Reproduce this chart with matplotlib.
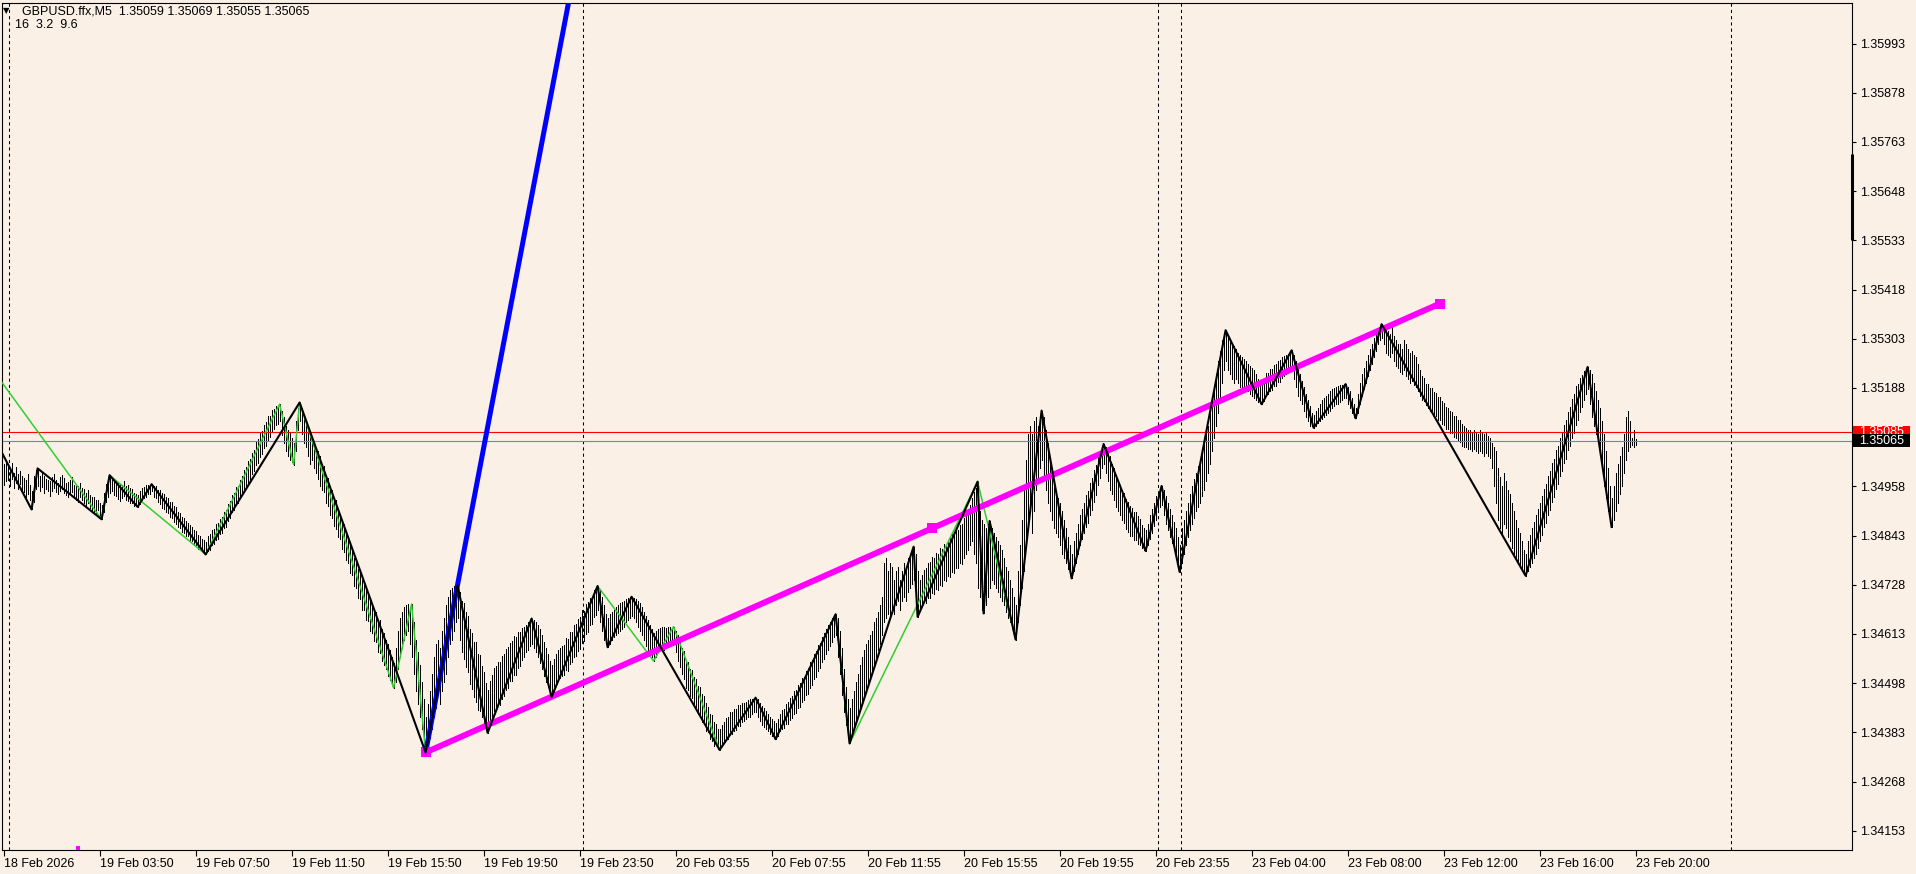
import matplotlib
matplotlib.use("Agg")
import matplotlib.pyplot as plt
from matplotlib.patches import Rectangle

# GBPUSD M5, bar index 0 = 18 Feb 23:50; prices in points above 1.34000
bar_low = [
    962, 970, 972, 958, 975, 955, 966, 952, 964, 948,
    944, 932, 941, 926, 904, 922, 952, 960, 948, 957,
    942, 952, 946, 936, 948, 953, 944, 940, 947, 951,
    943, 938, 932, 940, 944, 931, 927, 922, 932, 925,
    918, 912, 920, 907, 903, 898, 892, 902, 888, 881,
    898, 922, 933, 942, 946, 938, 936, 928, 924, 931,
    936, 926, 924, 918, 919, 913, 911, 910, 917, 926,
    931, 934, 939, 941, 946, 933, 931, 922, 917, 908,
    904, 897, 896, 886, 884, 875, 871, 862, 861, 852,
    849, 842, 841, 832, 831, 822, 821, 812, 813, 806,
    803, 799, 806, 810, 820, 823, 832, 836, 847, 848,
    860, 863, 877, 883, 897, 903, 917, 920, 932, 938,
    950, 953, 967, 973, 987, 993, 1007, 1013, 1027, 1033,
    1047, 1053, 1067, 1073, 1087, 1093, 1102, 1103, 1110, 1078,
    1060, 1040, 1030, 1020, 1015, 1009, 1040, 1090, 1110, 1080,
    1060, 1050, 1030, 1010, 1020, 1000, 990, 975, 960, 950,
    945, 920, 912, 890, 885, 866, 858, 840, 834, 812,
    804, 785, 778, 756, 750, 726, 720, 696, 694, 670,
    668, 646, 644, 620, 615, 596, 594, 570, 569, 550,
    540, 530, 515, 505, 495, 487, 500, 530, 560, 580,
    600, 610, 620, 590, 560, 520, 480, 450, 420, 390,
    360, 336, 350, 370, 390, 420, 440, 470, 450, 480,
    500, 520, 560, 590, 600, 620, 640, 650, 600, 570,
    555, 535, 525, 495, 485, 465, 455, 435, 433, 418,
    404, 388, 382, 402, 418, 433, 437, 448, 447, 462,
    467, 483, 487, 503, 502, 518, 517, 533, 537, 553,
    560, 570, 575, 585, 590, 580, 570, 560, 545, 530,
    515, 500, 490, 480, 466, 480, 495, 505, 510, 515,
    518, 528, 527, 543, 547, 558, 562, 573, 577, 593,
    597, 613, 617, 633, 637, 653, 657, 670, 640, 620,
    600, 590, 582, 590, 600, 605, 610, 615, 620, 625,
    630, 640, 645, 650, 655, 650, 640, 630, 620, 610,
    600, 585, 575, 565, 558, 550, 560, 570, 580, 585,
    575, 580, 585, 590, 595, 600, 570, 550, 535, 520,
    508, 487, 483, 467, 463, 447, 443, 427, 423, 407,
    403, 387, 383, 367, 363, 352, 353, 343, 342, 351,
    358, 367, 368, 377, 378, 387, 388, 397, 398, 407,
    410, 415, 418, 420, 425, 430, 430, 420, 410, 400,
    395, 390, 385, 380, 375, 370, 367, 375, 385, 390,
    393, 402, 403, 412, 416, 427, 428, 440, 443, 454,
    458, 470, 473, 487, 493, 507, 513, 527, 533, 547,
    555, 565, 575, 585, 595, 605, 610, 560, 520, 470,
    430, 400, 370, 357, 380, 400, 410, 420, 440, 450,
    470, 480, 500, 510, 520, 540, 560, 575, 590, 610,
    640, 650, 660, 650, 670, 660, 680, 690, 670, 690,
    700, 690, 710, 720, 730, 740, 680, 653, 670, 680,
    688, 686, 698, 697, 708, 706, 718, 716, 728, 726,
    738, 736, 748, 746, 758, 756, 768, 766, 778, 776,
    790, 800, 810, 820, 830, 800, 780, 720, 700, 670,
    661, 680, 700, 720, 740, 730, 720, 710, 700, 690,
    680, 665, 650, 640, 625, 610, 600, 640, 680, 720,
    760, 820, 880, 900, 850, 900, 950, 980, 1000, 1020,
    980, 950, 920, 900, 880, 860, 850, 840, 820, 800,
    790, 780, 765, 750, 743, 760, 780, 800, 820, 835,
    848, 862, 873, 892, 903, 922, 938, 962, 978, 1000,
    1010, 990, 970, 950, 940, 925, 910, 900, 890, 880,
    872, 858, 852, 843, 842, 833, 832, 823, 822, 813,
    810, 807, 820, 835, 850, 865, 880, 900, 910, 915,
    890, 870, 855, 840, 825, 810, 790, 775, 758, 780,
    800, 820, 840, 855, 870, 885, 900, 910, 920, 935,
    950, 970, 990, 1010, 1040, 1070, 1100, 1130, 1160, 1200,
    1230, 1250, 1230, 1220, 1210, 1200, 1210, 1200, 1190, 1185,
    1180, 1190, 1180, 1175, 1170, 1165, 1160, 1155, 1152, 1150,
    1158, 1172, 1173, 1182, 1183, 1192, 1193, 1202, 1203, 1212,
    1215, 1220, 1225, 1230, 1235, 1210, 1190, 1170, 1160, 1150,
    1135, 1120, 1110, 1100, 1098, 1095, 1100, 1105, 1110, 1115,
    1120, 1125, 1130, 1135, 1140, 1145, 1150, 1150, 1155, 1160,
    1165, 1165, 1150, 1140, 1130, 1120, 1117, 1130, 1150, 1170,
    1185, 1200, 1215, 1230, 1245, 1260, 1275, 1290, 1300, 1305,
    1290, 1270, 1265, 1260, 1270, 1250, 1240, 1235, 1225, 1220,
    1230, 1215, 1210, 1200, 1205, 1195, 1190, 1180, 1170, 1160,
    1157, 1148, 1142, 1133, 1132, 1123, 1122, 1113, 1112, 1103,
    1102, 1093, 1092, 1083, 1082, 1073, 1072, 1063, 1062, 1053,
    1050, 1050, 1045, 1045, 1040, 1045, 1040, 1035, 1040, 1035,
    1030, 1035, 1030, 1025, 1000, 960, 920, 880, 860, 850,
    870, 860, 840, 830, 815, 800, 790, 780, 770, 760,
    755, 749, 760, 770, 780, 790, 800, 815, 830, 845,
    862, 873, 892, 903, 922, 933, 952, 963, 982, 993,
    1012, 1023, 1042, 1053, 1072, 1083, 1102, 1113, 1132, 1143,
    1160, 1175, 1185, 1150, 1120, 1100, 1080, 1060, 1030, 1000,
    960, 930, 900, 880, 863, 880, 900, 920, 940, 960,
    990, 1020, 1040, 1050, 1055, 1050, 1055,
]
bar_high = [
    1010, 1018, 1004, 1000, 1012, 990, 1003, 988, 994, 982,
    978, 972, 986, 962, 948, 982, 996, 1000, 983, 992,
    983, 976, 972, 970, 981, 988, 974, 966, 980, 984,
    978, 965, 968, 974, 979, 962, 958, 960, 965, 953,
    951, 943, 950, 938, 934, 932, 926, 927, 918, 914,
    942, 963, 977, 984, 979, 973, 971, 966, 963, 962,
    971, 960, 961, 953, 951, 943, 941, 937, 946, 953,
    957, 961, 962, 959, 963, 958, 959, 950, 949, 943,
    941, 933, 931, 922, 921, 912, 909, 898, 896, 887,
    884, 876, 873, 867, 863, 855, 853, 845, 843, 836,
    833, 829, 841, 846, 857, 858, 870, 873, 882, 886,
    897, 903, 917, 923, 937, 943, 957, 960, 974, 983,
    997, 1003, 1017, 1023, 1037, 1043, 1062, 1068, 1082, 1088,
    1102, 1108, 1122, 1123, 1137, 1138, 1146, 1147, 1150, 1133,
    1120, 1100, 1090, 1085, 1070, 1060, 1110, 1140, 1154, 1140,
    1120, 1110, 1100, 1080, 1070, 1060, 1045, 1040, 1030, 1010,
    1005, 985, 978, 955, 950, 930, 925, 900, 894, 875,
    870, 845, 843, 820, 815, 790, 785, 765, 763, 740,
    735, 715, 710, 690, 685, 665, 665, 645, 645, 625,
    615, 600, 590, 575, 560, 545, 580, 620, 650, 665,
    675, 680, 683, 670, 683, 640, 600, 570, 540, 500,
    460, 420, 450, 480, 520, 560, 590, 600, 580, 620,
    650, 680, 700, 715, 720, 725, 727, 727, 710, 690,
    685, 665, 655, 625, 615, 595, 595, 565, 563, 538,
    525, 498, 482, 503, 517, 533, 537, 548, 547, 562,
    567, 578, 582, 593, 597, 608, 607, 618, 617, 628,
    630, 635, 640, 645, 649, 645, 640, 635, 625, 610,
    595, 580, 565, 550, 540, 555, 565, 575, 580, 585,
    588, 603, 602, 618, 617, 633, 637, 648, 652, 668,
    667, 683, 687, 698, 702, 715, 717, 725, 715, 700,
    680, 660, 650, 660, 665, 670, 675, 680, 685, 688,
    690, 695, 698, 700, 700, 698, 695, 690, 685, 675,
    665, 655, 645, 635, 625, 615, 620, 625, 628, 630,
    630, 628, 630, 630, 628, 630, 620, 610, 595, 580,
    573, 552, 548, 532, 528, 512, 508, 492, 488, 472,
    468, 452, 443, 427, 423, 407, 403, 392, 390, 401,
    408, 417, 418, 430, 430, 438, 438, 447, 446, 452,
    452, 455, 458, 460, 462, 464, 464, 460, 452, 445,
    440, 432, 425, 420, 415, 410, 405, 415, 425, 435,
    438, 450, 453, 464, 468, 480, 483, 494, 498, 510,
    513, 527, 533, 547, 553, 567, 573, 587, 593, 607,
    615, 625, 635, 642, 650, 655, 659, 650, 620, 580,
    530, 490, 460, 440, 460, 480, 500, 520, 540, 560,
    575, 590, 600, 610, 620, 640, 650, 665, 680, 700,
    780, 790, 760, 780, 770, 740, 760, 770, 740, 760,
    780, 770, 790, 800, 810, 817, 800, 760, 740, 750,
    762, 767, 778, 782, 793, 791, 803, 801, 813, 811,
    823, 821, 833, 837, 848, 846, 858, 856, 868, 871,
    885, 895, 905, 915, 930, 945, 955, 969, 900, 880,
    870, 860, 870, 877, 860, 850, 840, 830, 820, 810,
    790, 770, 760, 740, 720, 700, 680, 760, 820, 880,
    950, 1020, 1080, 1100, 1080, 1110, 1120, 1100, 1125, 1135,
    1120, 1090, 1060, 1020, 980, 960, 940, 930, 920, 900,
    880, 860, 840, 820, 800, 830, 850, 870, 890, 905,
    918, 937, 948, 967, 978, 997, 1008, 1027, 1038, 1050,
    1057, 1050, 1040, 1030, 1010, 1000, 985, 970, 960, 950,
    942, 928, 922, 913, 907, 898, 897, 888, 882, 868,
    860, 855, 870, 890, 905, 920, 935, 945, 955, 959,
    950, 935, 920, 905, 890, 875, 860, 840, 820, 860,
    880, 900, 920, 940, 960, 975, 990, 1005, 1020, 1040,
    1060, 1080, 1100, 1130, 1160, 1190, 1220, 1250, 1275, 1300,
    1315, 1323, 1310, 1300, 1290, 1285, 1280, 1270, 1265, 1260,
    1255, 1250, 1245, 1240, 1235, 1230, 1220, 1210, 1200, 1195,
    1208, 1222, 1223, 1232, 1233, 1242, 1243, 1252, 1253, 1260,
    1262, 1265, 1268, 1272, 1276, 1265, 1250, 1235, 1220, 1205,
    1190, 1175, 1160, 1145, 1130, 1125, 1135, 1140, 1150, 1160,
    1165, 1170, 1175, 1180, 1185, 1188, 1190, 1192, 1195, 1195,
    1197, 1197, 1190, 1180, 1165, 1150, 1140, 1175, 1200, 1220,
    1235, 1250, 1265, 1280, 1290, 1305, 1315, 1325, 1332, 1337,
    1335, 1330, 1320, 1315, 1330, 1310, 1300, 1290, 1290, 1280,
    1300, 1290, 1280, 1270, 1275, 1265, 1260, 1245, 1230, 1215,
    1212, 1198, 1197, 1188, 1187, 1178, 1177, 1168, 1167, 1158,
    1152, 1143, 1142, 1133, 1132, 1123, 1122, 1113, 1112, 1103,
    1100, 1095, 1090, 1090, 1085, 1090, 1085, 1080, 1090, 1085,
    1080, 1085, 1075, 1070, 1060, 1050, 1040, 1000, 980, 960,
    990, 970, 950, 940, 920, 900, 880, 860, 850, 830,
    810, 800, 830, 845, 860, 875, 890, 905, 920, 935,
    952, 963, 982, 993, 1012, 1023, 1042, 1053, 1072, 1083,
    1102, 1113, 1132, 1143, 1162, 1173, 1192, 1198, 1212, 1218,
    1228, 1233, 1237, 1230, 1220, 1200, 1180, 1160, 1140, 1110,
    1080, 1040, 1000, 960, 930, 960, 990, 1010, 1030, 1050,
    1080, 1120, 1135, 1110, 1070, 1090, 1069,
]

# zigzag indicators (bar index, points)
zz_idx = [-1, 14, 17, 49, 53, 67, 74, 101, 148, 211, 227, 242, 264, 274, 297,
          302, 314, 358, 376, 386, 416, 423, 455, 457, 487, 490, 493, 506, 519,
          534, 550, 571, 579, 588, 611, 629, 644, 655, 671, 676, 689, 761, 792, 804]
zz_pts = [1038, 904, 1000, 881, 984, 910, 963, 799, 1154, 336, 727, 382, 649, 466, 725,
          582, 700, 342, 464, 367, 659, 357, 817, 653, 969, 661, 877, 600, 1135,
          743, 1057, 807, 959, 758, 1323, 1150, 1276, 1095, 1197, 1117, 1337, 749, 1237, 863]
green_idx = [-1, 49, 53, 101, 138, 145, 148, 195, 204, 211, 227, 242, 264, 274,
             297, 325, 335, 358, 376, 386, 416, 423, 487, 506]
green_pts = [1202, 881, 984, 799, 1150, 1009, 1154, 487, 683, 336, 727, 382, 649, 466,
             725, 550, 630, 342, 464, 367, 659, 357, 969, 600]

# drawn objects
trend_idx = [211, 464.4, 718]
trend_pts = [336, 860, 1385]
ray_idx = [211, 282.4]
ray_pts = [336, 2087]
separators = [2.9, 289.7, 577, 588.7, 863.7]
marker_idx = [37.2]
marker_pts = [113]

ask_price = 1.35085
bid_price = 1.35065

time_ticks = [0, 48, 96, 144, 192, 240, 288, 336, 384, 432, 480, 528, 576, 624,
              672, 720, 768, 816]
time_labels = ["18 Feb 2026", "19 Feb 03:50", "19 Feb 07:50", "19 Feb 11:50",
               "19 Feb 15:50", "19 Feb 19:50", "19 Feb 23:50", "20 Feb 03:55",
               "20 Feb 07:55", "20 Feb 11:55", "20 Feb 15:55", "20 Feb 19:55",
               "20 Feb 23:55", "23 Feb 04:00", "23 Feb 08:00", "23 Feb 12:00",
               "23 Feb 16:00", "23 Feb 20:00"]
price_ticks = [1.34153, 1.34268, 1.34383, 1.34498, 1.34613, 1.34728, 1.34843,
               1.34958, 1.35188, 1.35303, 1.35418, 1.35533, 1.35648, 1.35763,
               1.35878, 1.35993]

header = "GBPUSD.ffx,M5  1.35059 1.35069 1.35055 1.35065"
subheader = "16  3.2  9.6"

BG = "#FAF0E6"
plt.rcParams['font.family'] = ['Liberation Sans', 'DejaVu Sans']


def to_price(pts):
    return [1.34 + p / 1e5 for p in pts]


n = min(len(bar_low), len(bar_high))
idx = list(range(n))

fig = plt.figure(figsize=(19.16, 8.74), dpi=100, facecolor=BG)
ax = fig.add_axes([2 / 1916, 24 / 874, 1850 / 1916, 847.5 / 874])
ax.set_facecolor(BG)
y0, y1 = 1.34108, 1.36089
ax.set_xlim(-0.8, 924.2)
ax.set_ylim(y0, y1)

for x in separators:
    ax.axvline(x, color='black', lw=0.75, linestyle=(0, (3, 3)), zorder=1)

ax.vlines(idx, to_price(bar_low[:n]), to_price(bar_high[:n]), colors='black',
          linewidth=0.5, antialiased=False, zorder=2)

ax.axhline(ask_price, color='#FF0000', lw=0.8, zorder=2.5)
ax.axhline(bid_price, color='#778899', lw=0.8, zorder=2.5)

ax.plot(green_idx, to_price(green_pts), color='#32CD32', lw=1.1, zorder=4)

# blue trend ray, extended beyond the top edge
rp = to_price(ray_pts)
slope = (rp[1] - rp[0]) / (ray_idx[1] - ray_idx[0])
x_far = ray_idx[0] + (y1 + 0.001 - rp[0]) / slope
ax.plot([ray_idx[0], x_far], [rp[0], y1 + 0.001], color='#0000FF', lw=3.6,
        solid_capstyle='butt', zorder=5)

tp = to_price(trend_pts)
ax.plot([trend_idx[0], trend_idx[-1]], [tp[0], tp[-1]], color='#FF00FF', lw=4.3,
        solid_capstyle='butt', zorder=5)
ax.plot(trend_idx, tp, 's', color='#FF00FF', ms=6.5, mew=0, zorder=5)

ax.plot(zz_idx, to_price(zz_pts), color='black', lw=1.5, zorder=6)

ax.plot(marker_idx, to_price(marker_pts), 's', color='#FF00FF', ms=2.5, mew=0, zorder=6)

for s in ax.spines.values():
    s.set_color('black')
    s.set_linewidth(0.8)

ax.yaxis.tick_right()
ax.set_yticks(price_ticks)
ax.set_yticklabels([f"{p:.5f}" for p in price_ticks])
ax.tick_params(axis='y', right=True, left=False, direction='out', length=3,
               width=0.8, pad=3, labelsize=9, colors='black')
ax.set_xticks(time_ticks)
ax.set_xticklabels(time_labels)
ax.tick_params(axis='x', direction='out', length=4, width=0.8, pad=2,
               labelsize=9, colors='black')
for lab in ax.get_xticklabels():
    lab.set_horizontalalignment('left')

# thick marker on the price scale
ax.plot([1.0, 1.0], [1.35534, 1.35734], transform=ax.get_yaxis_transform(),
        color='black', lw=2.2, solid_capstyle='butt', clip_on=False, zorder=8)

# price labels on the scale
box_h = 13 * (y1 - y0) / 847.5
z = 10
for price, col in [(ask_price, '#FF0000'), (bid_price, 'black')]:
    ax.add_patch(Rectangle((1 + 1 / 1850, price - box_h / 2), 57 / 1850, box_h,
                           transform=ax.get_yaxis_transform(), facecolor=col,
                           edgecolor='none', clip_on=False, zorder=z))
    ax.text(1 + 7 / 1850, price, f"{price:.5f}", transform=ax.get_yaxis_transform(),
            color='white', fontsize=9, va='center', ha='left', clip_on=False, zorder=z + 1)
    z += 2

fig.text(3 / 1916, 1 - 11 / 874, "\u25bc", fontsize=6, va='center', ha='left',
         family='DejaVu Sans', color='black')
fig.text(22 / 1916, 1 - 11 / 874, header, fontsize=9, va='center', ha='left', color='black')
fig.text(15 / 1916, 1 - 25 / 874, subheader, fontsize=9, va='center', ha='left', color='black')

fig.savefig("out.png", dpi=100, facecolor=BG)
